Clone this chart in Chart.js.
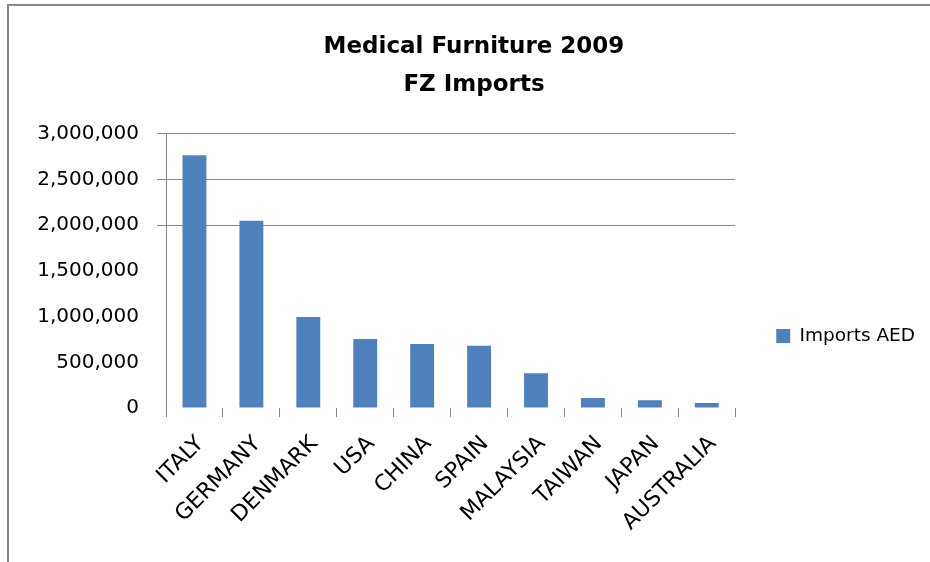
<!DOCTYPE html>
<html>
<head>
<meta charset="utf-8">
<script src="https://cdn.jsdelivr.net/npm/chart.js@4"></script>
<style>
  html, body { margin: 0; padding: 0; background: #fff; overflow: hidden; }
  #wrap { position: relative; width: 930px; height: 562px; overflow: hidden; }
  #frame { position: absolute; left: 7px; top: 4px; width: 921px; height: 556px;
           border-top: 2px solid #878787; border-left: 2px solid #878787; pointer-events: none; }
  canvas { position: absolute; left: 0; top: 0; }
</style>
</head>
<body>
<div id="wrap">
  <canvas id="c" width="930" height="562"></canvas>
  <div id="frame"></div>
</div>
<script>
const titleLines = ['Medical Furniture 2009', 'FZ Imports'];
const categories = ['ITALY', 'GERMANY', 'DENMARK', 'USA', 'CHINA', 'SPAIN', 'MALAYSIA', 'TAIWAN', 'JAPAN', 'AUSTRALIA'];
const seriesName = 'Imports AED';
const importsAED = [2765000, 2050000, 995000, 755000, 700000, 680000, 380000, 110000, 85000, 55000];
const yMin = 0;
const yMax = 3000000;
const yStep = 500000;
const gridValues = [2000000, 2500000, 3000000];

const FONT = "'DejaVu Sans', sans-serif";
const AXIS_GRAY = '#878787';

new Chart(document.getElementById('c'), {
  type: 'bar',
  data: {
    labels: categories,
    datasets: [{
      label: seriesName,
      data: importsAED,
      backgroundColor: '#4F81BD',
      borderWidth: 0,
      categoryPercentage: 1,
      barPercentage: 0.42
    }]
  },
  options: {
    responsive: false,
    animation: false,
    devicePixelRatio: 1,
    layout: { padding: { left: 23, right: 5, top: 0, bottom: 0 } },
    plugins: {
      title: {
        display: true,
        text: titleLines,
        color: '#000',
        font: { family: FONT, size: 23, weight: 'bold', lineHeight: 1.65 },
        padding: { top: 28, bottom: 30 }
      },
      legend: {
        display: true,
        position: 'right',
        align: 'center',
        title: { display: true, text: '', font: { size: 10, lineHeight: 1 }, padding: { top: 100, bottom: 0 } },
        labels: {
          boxWidth: 14,
          boxHeight: 14,
          padding: 41,
          color: '#000',
          font: { family: FONT, size: 18.5 }
        }
      },
      tooltip: { enabled: false }
    },
    scales: {
      x: {
        offset: true,
        border: { display: false },
        grid: {
          offset: true,
          drawOnChartArea: false,
          drawTicks: true,
          tickLength: 9,
          color: AXIS_GRAY
        },
        ticks: {
          color: '#000',
          font: { family: FONT, size: 22 },
          maxRotation: 45,
          minRotation: 45,
          padding: 14,
          labelOffset: 6,
          autoSkip: false
        },
        afterFit: (s) => { s.paddingLeft = 0; s.paddingRight = 0; s.height = 154; }
      },
      y: {
        min: yMin,
        max: yMax,
        border: { display: true, color: AXIS_GRAY, width: 1 },
        grid: {
          tickLength: 9,
          color: (ctx) => (ctx.tick && gridValues.includes(ctx.tick.value)) ? AXIS_GRAY : 'rgba(0,0,0,0)'
        },
        ticks: {
          stepSize: yStep,
          color: '#000',
          padding: 18,
          font: { family: FONT, size: 20 },
          callback: (v) => Number(v).toLocaleString('en-US')
        },
        afterFit: (s) => { s.width = 143; s.paddingTop = 0; s.paddingBottom = 0; }
      }
    }
  }
});
</script>
</body>
</html>
